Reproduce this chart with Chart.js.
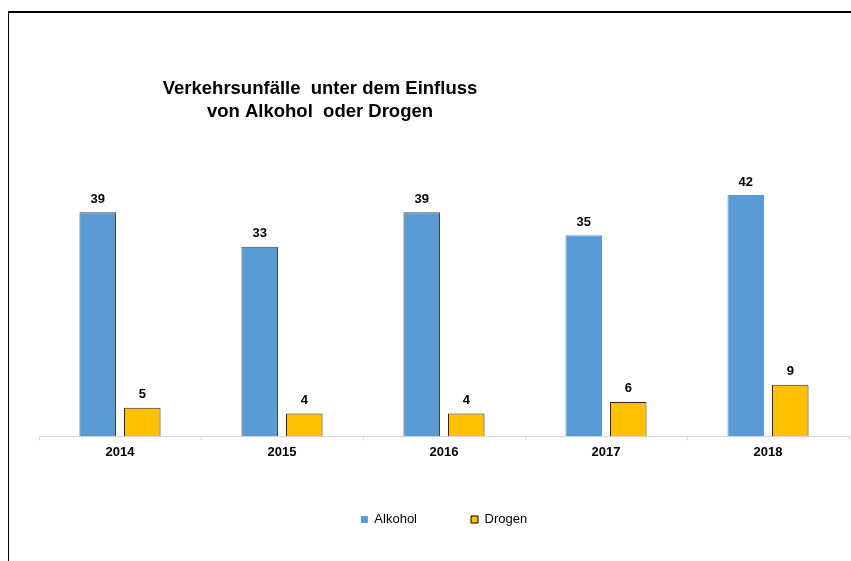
<!DOCTYPE html>
<html>
<head>
<meta charset="utf-8">
<script src="https://cdn.jsdelivr.net/npm/chart.js@4/dist/chart.umd.min.js"></script>
<style>
  body { margin: 0; background: #fff; }
  .frame { position: absolute; left: 8px; top: 11px; width: 860px; height: 600px;
           border-top: 2px solid #000; border-left: 1px solid #000; }
  .wrap { position: absolute; left: 0; top: 0; width: 851px; height: 561px; }
</style>
</head>
<body>
<div class="frame"></div>
<div class="wrap"><canvas id="chart"></canvas></div>
<script>
const years = ['2014', '2015', '2016', '2017', '2018'];
const alkohol = [39, 33, 39, 35, 42];
const drogen = [5, 4, 4, 6, 9];
const titleLines = ['Verkehrsunfälle  unter dem Einfluss', 'von Alkohol  oder Drogen'];

const blue = '#5B9BD5';
const yellow = '#FFC000';
const font = 'Liberation Sans, Arial, sans-serif';

// title + values above bars
const extras = {
    id: 'extras',
    afterDatasetsDraw(chart) {
        const ctx = chart.ctx;
        ctx.save();
        ctx.fillStyle = '#000';
        ctx.textAlign = 'center';
        ctx.textBaseline = 'middle';
        ctx.font = 'bold 18.5px ' + font;
        ctx.fillText(titleLines[0], 320, 89);
        ctx.fillText(titleLines[1], 320, 112);

        ctx.font = 'bold 13px ' + font;
        chart.data.datasets.forEach((ds, i) => {
            chart.getDatasetMeta(i).data.forEach((bar, j) => {
                ctx.fillText(ds.data[j], bar.x, bar.y - 13);
            });
        });
        ctx.restore();
    }
};

const ctx = document.getElementById('chart').getContext('2d');
new Chart(ctx, {
    type: 'bar',
    data: {
        labels: years,
        datasets: [{
            label: 'Alkohol',
            data: alkohol,
            backgroundColor: blue,
            borderColor: ['#404040', '#404040', '#404040', blue, blue],
            borderWidth: 1,
            categoryPercentage: 0.55,
            barPercentage: 0.82
        }, {
            label: 'Drogen',
            data: drogen,
            backgroundColor: yellow,
            borderColor: '#262626',
            borderWidth: 1,
            categoryPercentage: 0.55,
            barPercentage: 0.82
        }]
    },
    options: {
        responsive: true,
        maintainAspectRatio: false,
        animation: false,
        layout: { padding: { left: 39, right: 2, top: 149, bottom: 25 } },
        scales: {
            y: { display: false, min: 0, max: 50 },
            x: {
                grid: { drawOnChartArea: false, color: '#d9d9d9', tickLength: 4 },
                border: { color: '#d9d9d9' },
                ticks: { color: '#000', padding: 4, font: { family: font, size: 13, weight: 'bold' } },
                afterFit: (scale) => { scale.height -= 5; }
            }
        },
        plugins: {
            tooltip: { enabled: false },
            legend: {
                position: 'bottom',
                labels: {
                    boxWidth: 7,
                    boxHeight: 7,
                    padding: 54,
                    color: '#000',
                    font: { family: font, size: 13 },
                    generateLabels: () => [
                        { text: 'Alkohol', fillStyle: blue, strokeStyle: blue, lineWidth: 0, datasetIndex: 0 },
                        { text: 'Drogen', fillStyle: yellow, strokeStyle: '#000', lineWidth: 1, datasetIndex: 1 }
                    ]
                }
            }
        }
    },
    plugins: [extras]
});
</script>
</body>
</html>
